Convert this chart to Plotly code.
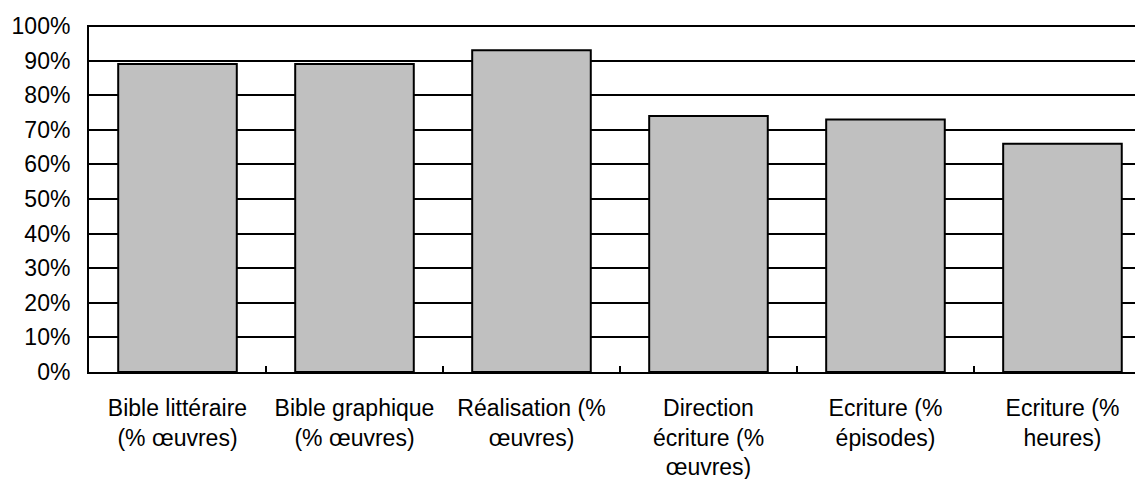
import plotly.graph_objects as go

# --- Data ---
CATEGORIES = [
    "Bible littéraire<br>(% œuvres)",
    "Bible graphique<br>(% œuvres)",
    "Réalisation (%<br>œuvres)",
    "Direction<br>écriture (%<br>œuvres)",
    "Ecriture (%<br>épisodes)",
    "Ecriture (%<br>heures)",
]
VALUES = [0.89, 0.89, 0.93, 0.74, 0.73, 0.66]

FONT = dict(family="Liberation Sans, Arial, sans-serif", size=23, color="black")

fig = go.Figure()
fig.add_trace(go.Bar(
    x=CATEGORIES,
    y=VALUES,
    marker=dict(color="#c0c0c0", line=dict(color="black", width=2)),
    hoverinfo="x+y",
))

# page body has an 8px margin, so the figure is a bit smaller than the window
fig.update_layout(
    width=1135,
    height=471,
    margin=dict(l=81, r=0, t=17, b=107),
    paper_bgcolor="white",
    plot_bgcolor="white",
    font=FONT,
    bargap=0.33,
    showlegend=False,
)

fig.update_xaxes(
    type="category",
    range=[-0.5, 5.455],
    tickson="boundaries",
    ticks="inside",
    ticklen=6,
    tickwidth=2,
    tickcolor="black",
    showline=True,
    linecolor="black",
    linewidth=2,
    showgrid=False,
    ticklabelstandoff=14,
    tickangle=0,
    automargin=False,
)

fig.update_yaxes(
    range=[0, 1.003],
    dtick=0.1,
    tickformat=".0%",
    showgrid=True,
    gridcolor="black",
    gridwidth=2,
    showline=True,
    linecolor="black",
    linewidth=2,
    zeroline=False,
    ticks="",
    ticklabelstandoff=12,
    automargin=False,
)

fig.write_html("out.html")
